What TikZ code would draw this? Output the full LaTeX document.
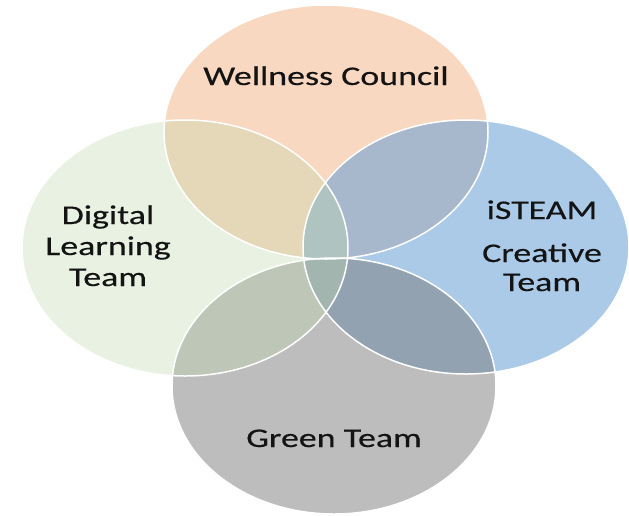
\documentclass[tikz,border=0pt]{standalone}
\usepackage{fontspec}
\setmainfont[FakeStretch=1.33,FakeBold=0.4]{Carlito}
\usepackage{tikz}
\usetikzlibrary{positioning}

\definecolor{wellness}{HTML}{F8D8C0}
\definecolor{steam}{HTML}{6BA1D6}
\definecolor{greenteam}{HTML}{7B7B7B}
\definecolor{digital}{HTML}{C0DAAC}

\begin{document}
\begin{tikzpicture}[x=1pt,y=-1pt,
    teamlabel/.style={font=\fontsize{27}{31}\selectfont,anchor=base,align=center,inner sep=0pt,text=black!92},
    rim/.style={draw=white,line width=1.5pt}]
  \useasboundingbox (0,0) rectangle (629,515);

  %fills, top first
  \fill[wellness] (326,132) ellipse [x radius=162,y radius=127];
  \fill[steam,fill opacity=0.57] (466,247) ellipse [x radius=163,y radius=127];
  \fill[greenteam,fill opacity=0.5] (334,386) ellipse [x radius=162,y radius=128];
  \fill[digital,fill opacity=0.35] (185,248) ellipse [x radius=163,y radius=128];

  %white rims
  \draw[rim] (326,132) ellipse [x radius=162,y radius=127];
  \draw[rim] (466,247) ellipse [x radius=163,y radius=127];
  \draw[rim] (334,386) ellipse [x radius=162,y radius=128];
  \draw[rim] (185,248) ellipse [x radius=163,y radius=128];

  %labels (base = last line)
  \node[teamlabel] (wellnessc) at (326,85) {Wellness Council};
  \node[teamlabel] (digitalt) at (108,286) {Digital\\Learning\\Team};
  \node[teamlabel,font=\fontsize{27}{29}\selectfont] (isteamt) at (542,291) {iSTEAM\\[14pt]Creative\\Team};
  \node[teamlabel] (greent) at (334,447) {Green Team};
\end{tikzpicture}
\end{document}
